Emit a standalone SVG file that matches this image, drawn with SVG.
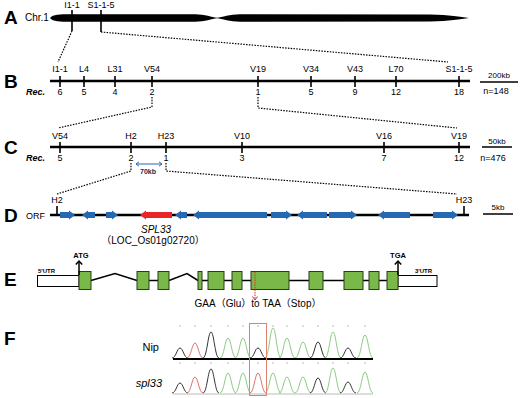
<svg xmlns="http://www.w3.org/2000/svg" width="520" height="398" viewBox="0 0 520 398">
<style>
.pl{font-family:"Liberation Sans",Arial,sans-serif;font-weight:bold;font-size:19px;fill:#000}
.t{font-family:"Liberation Sans",Arial,sans-serif;font-size:9px;fill:#000;text-anchor:middle}
.rec{font-family:"Liberation Sans",Arial,sans-serif;font-size:9px;font-weight:bold;font-style:italic;fill:#000}
.sc{font-family:"Liberation Sans",Arial,sans-serif;font-size:8px;fill:#000;text-anchor:middle}
.ax{stroke:#000;stroke-width:2.6;fill:none}
.tk{stroke:#000;stroke-width:1.6}
.dot{stroke:#000;stroke-width:1.2;stroke-dasharray:1.5 1.3;fill:none}
.blue{fill:#2569b3}
.red{fill:#e8262a}
.ex{fill:#7bb84a;stroke:#2a3d18;stroke-width:1}
.utr{fill:#fff;stroke:#000;stroke-width:1}
.intr{stroke:#000;stroke-width:1.5;fill:none}
.pk{fill:none;stroke-width:1}
.g{stroke:#8ccc84}
.r{stroke:#e07272}
.k{stroke:#333}
.mk{stroke:#bbb;stroke-width:1}
.ah{fill:none;stroke:#000;stroke-width:1.5}
</style>

<!-- Panel letters -->
<g id="panel-letters">
<text class="pl" x="4" y="24">A</text>
<text class="pl" x="4" y="88">B</text>
<text class="pl" x="4" y="154">C</text>
<text class="pl" x="4" y="222">D</text>
<text class="pl" x="4" y="286">E</text>
<text class="pl" x="4" y="345">F</text>
</g>

<!-- Panel A -->
<g id="chr1">
<text x="25" y="21" font-family="Liberation Sans,Arial,sans-serif" font-size="10">Chr.1</text>
<path d="M50,18 C53,14.3 60,14.3 70,14.3 L195,14.3 C205,14.3 212,17.4 217,17.8 C222,17.4 230,14.3 240,14.3 L430,14.5 C450,15 460,17 469,18 C460,19 450,21 430,21.5 L240,21.7 C230,21.7 222,18.6 217,18.2 C212,18.6 205,21.7 195,21.7 L70,21.7 C60,21.7 53,21.7 50,18 Z" fill="#000"/>
</g>
<g id="A-markers">
<line class="tk" x1="72" y1="10" x2="72" y2="31"/>
<line class="tk" x1="101" y1="10" x2="101" y2="32"/>
<text class="t" x="72" y="8">I1-1</text>
<text class="t" x="101" y="8">S1-1-5</text>
</g>

<!-- Panel B -->
<g id="B-map">
<line class="ax" x1="50" y1="81" x2="470" y2="81"/>
<g class="tk">
<line x1="60" y1="76" x2="60" y2="87"/>
<line x1="84" y1="76" x2="84" y2="87"/>
<line x1="115" y1="76" x2="115" y2="87"/>
<line x1="152" y1="76" x2="152" y2="87"/>
<line x1="258" y1="76" x2="258" y2="87"/>
<line x1="311" y1="76" x2="311" y2="87"/>
<line x1="355" y1="76" x2="355" y2="87"/>
<line x1="396" y1="76" x2="396" y2="87"/>
<line x1="459" y1="76" x2="459" y2="87"/>
</g>
<text class="t" x="60" y="72">I1-1</text>
<text class="t" x="84" y="72">L4</text>
<text class="t" x="115" y="72">L31</text>
<text class="t" x="152" y="72">V54</text>
<text class="t" x="258" y="72">V19</text>
<text class="t" x="311" y="72">V34</text>
<text class="t" x="355" y="72">V43</text>
<text class="t" x="396" y="72">L70</text>
<text class="t" x="459" y="72">S1-1-5</text>
<text class="rec" x="26" y="95">Rec.</text>
<text class="t" x="60" y="95">6</text>
<text class="t" x="84" y="95">5</text>
<text class="t" x="115" y="95">4</text>
<text class="t" x="152" y="95">2</text>
<text class="t" x="258" y="95">1</text>
<text class="t" x="311" y="95">5</text>
<text class="t" x="355" y="95">9</text>
<text class="t" x="396" y="95">12</text>
<text class="t" x="459" y="95">18</text>
</g>
<g id="B-scale">
<text class="sc" x="499" y="78">200kb</text>
<line x1="480" y1="82" x2="518" y2="82" stroke="#000" stroke-width="1.5"/>
<text class="t" x="496" y="94">n=148</text>
</g>

<!-- Panel C -->
<g id="C-map">
<line class="ax" x1="50" y1="147" x2="470" y2="147"/>
<g class="tk">
<line x1="60" y1="142" x2="60" y2="153"/>
<line x1="131" y1="142" x2="131" y2="153"/>
<line x1="166" y1="142" x2="166" y2="153"/>
<line x1="242" y1="142" x2="242" y2="153"/>
<line x1="384" y1="142" x2="384" y2="153"/>
<line x1="459" y1="142" x2="459" y2="153"/>
</g>
<text class="t" x="60" y="139">V54</text>
<text class="t" x="131" y="139">H2</text>
<text class="t" x="166" y="139">H23</text>
<text class="t" x="242" y="139">V10</text>
<text class="t" x="384" y="139">V16</text>
<text class="t" x="459" y="139">V19</text>
<text class="rec" x="26" y="161">Rec.</text>
<text class="t" x="60" y="161">5</text>
<text class="t" x="131" y="161">2</text>
<text class="t" x="166" y="161">1</text>
<text class="t" x="242" y="161">3</text>
<text class="t" x="384" y="161">7</text>
<text class="t" x="459" y="161">12</text>
</g>
<g id="C-scale">
<text class="sc" x="497" y="144">50kb</text>
<line x1="482" y1="147" x2="512" y2="147" stroke="#000" stroke-width="1.5"/>
<text class="t" x="493" y="161">n=476</text>
</g>
<g id="C-70kb">
<line x1="136" y1="164" x2="162" y2="164" stroke="#2569b3" stroke-width="1"/>
<path d="M139,161.8 L136,164 L139,166.2 M159,161.8 L162,164 L159,166.2" fill="none" stroke="#2569b3" stroke-width="1"/>
<text x="148" y="174" font-family="Liberation Sans,Arial,sans-serif" font-size="7" font-weight="bold" fill="#1c2a55" text-anchor="middle">70kb</text>
</g>

<!-- Panel D -->
<g id="D-orf">
<text x="26" y="219" font-family="Liberation Sans,Arial,sans-serif" font-size="9">ORF</text>
<line class="ax" x1="50" y1="215" x2="469" y2="215"/>
<line class="tk" x1="57" y1="206" x2="57" y2="215"/>
<line class="tk" x1="464" y1="206" x2="464" y2="215"/>
<text class="t" x="57" y="203">H2</text>
<text class="t" x="464" y="203">H23</text>
<g class="blue">
<polygon points="60,212 69,212 69,210.5 75,215 69,219.5 69,218 60,218"/>
<polygon points="95,212 88,212 88,210.5 82,215 88,219.5 88,218 95,218"/>
<polygon points="106,212 112,212 112,210.5 118,215 112,219.5 112,218 106,218"/>
<polygon points="187,212 181,212 181,210.5 175,215 181,219.5 181,218 187,218"/>
<polygon points="267,212 199,212 199,210.5 193,215 199,219.5 199,218 267,218"/>
<polygon points="271,212 286,212 286,210.5 292,215 286,219.5 286,218 271,218"/>
<polygon points="327,212 303,212 303,210.5 297,215 303,219.5 303,218 327,218"/>
<polygon points="329,212 351,212 351,210.5 357,215 351,219.5 351,218 329,218"/>
<polygon points="410,212 384,212 384,210.5 378,215 384,219.5 384,218 410,218"/>
<polygon points="433,212 452,212 452,210.5 458,215 452,219.5 452,218 433,218"/>
</g>
</g>
<g id="D-spl33">
<polygon class="red" points="172,212 146,212 146,210.5 140,215 146,219.5 146,218 172,218"/>
<text x="156" y="233" font-family="Liberation Sans,Arial,sans-serif" font-size="10" font-style="italic" text-anchor="middle">SPL33</text>
<text x="153" y="244" font-family="Liberation Sans,'Noto Sans CJK SC',sans-serif" font-size="10" text-anchor="middle">（LOC_Os01g02720）</text>
</g>
<g id="D-scale">
<text class="sc" x="498" y="210">5kb</text>
<line x1="483" y1="214" x2="513" y2="214" stroke="#000" stroke-width="1.5"/>
</g>

<!-- Connectors -->
<g id="connectors">
<polyline class="dot" points="72,31 58,62"/>
<polyline class="dot" points="101,32 448,62"/>
<polyline class="dot" points="152,97 152,107 58,128"/>
<polyline class="dot" points="258,97 258,108 457,128"/>
<polyline class="dot" points="131,163 131,171 57,194"/>
<polyline class="dot" points="166,163 166,171 457,194"/>
</g>

<!-- Panel E -->
<g id="E-gene">
<path class="intr" d="M91,280.5 L115,273.5 L137,280.5 M149,280.5 L158,280.5 M169,280.5 L187,273.5 L198,280.5 M202,280.5 L208,280.5 M224,280.5 L232,280.5 M242,280.5 L251,280.5 M289,280.5 L309,280.5 M323,280.5 L344,280.5 M363,280.5 L369,280.5 M379,280.5 L387,280.5"/>
<rect class="utr" x="37.5" y="275.5" width="41.5" height="11"/>
<rect class="utr" x="398" y="275.5" width="39" height="11"/>
<rect class="ex" x="79" y="271.5" width="12" height="18"/>
<rect class="ex" x="137" y="271.5" width="12" height="18"/>
<rect class="ex" x="158" y="271.5" width="11" height="18"/>
<rect class="ex" x="198" y="271.5" width="4" height="18"/>
<rect class="ex" x="208" y="271.5" width="16" height="18"/>
<rect class="ex" x="232" y="271.5" width="10" height="18"/>
<rect class="ex" x="251" y="271.5" width="38" height="18"/>
<rect class="ex" x="309" y="271.5" width="14" height="18"/>
<rect class="ex" x="344" y="271.5" width="19" height="18"/>
<rect class="ex" x="369" y="271.5" width="10" height="18"/>
<rect class="ex" x="387" y="271.5" width="11" height="18"/>
<line x1="79" y1="275" x2="79" y2="261" stroke="#000" stroke-width="1.5"/>
<path class="ah" d="M75.8,264.5 L79,261 L82.2,264.5"/>
<line x1="398" y1="275" x2="398" y2="261" stroke="#000" stroke-width="1.5"/>
<path class="ah" d="M394.8,264.5 L398,261 L401.2,264.5"/>
<text x="81" y="258" font-family="Liberation Sans,Arial,sans-serif" font-size="7.5" font-weight="bold" text-anchor="middle">ATG</text>
<text x="398" y="258" font-family="Liberation Sans,Arial,sans-serif" font-size="7.5" font-weight="bold" text-anchor="middle">TGA</text>
<text x="38" y="273" font-family="Liberation Sans,Arial,sans-serif" font-size="6" font-weight="bold">5'UTR</text>
<text x="415" y="273" font-family="Liberation Sans,Arial,sans-serif" font-size="6" font-weight="bold">3'UTR</text>
<line x1="255" y1="272" x2="255" y2="299" stroke="#e8262a" stroke-width="1" stroke-dasharray="1.5 1"/>
<path d="M252.5,296.5 L255,300 L257.5,296.5" fill="none" stroke="#e8262a" stroke-width="1"/>
<text x="258" y="307" font-family="Liberation Sans,'Noto Sans CJK SC',sans-serif" font-size="10" text-anchor="middle">GAA（Glu）to TAA（Stop）</text>
</g>

<!-- Panel F -->
<g id="F-chromatogram">
<text x="159" y="351" font-family="Liberation Sans,Arial,sans-serif" font-size="11" text-anchor="end">Nip</text>
<text x="162" y="387" font-family="Liberation Sans,Arial,sans-serif" font-size="11" font-style="italic" text-anchor="end">spl33</text>
<g class="mk">
<path d="M179,326h2M194,326h2M210,326h2M227,326h2M242,326h2M257,326h2M272,326h2M286,326h2M302,326h2M317,326h2M332,326h2M347,326h2M364,326h2"/>
<path d="M179,363h2M194,363h2M210,363h2M227,363h2M242,363h2M257,363h2M272,363h2M286,363h2M302,363h2M317,363h2M332,363h2M347,363h2M364,363h2"/>
</g>
<g class="pk">
<path class="k" d="M172,358 C176,358 177,348 180,348 C183,348 184,358 188,358"/>
<path class="r" d="M187,358 C191,358 192,343 195,343 C198,343 199,358 203,358"/>
<path class="k" d="M203,358 C207,358 208,332 211,332 C214,332 215,358 219,358"/>
<path class="g" d="M220,358 C224,358 225,338 228,338 C231,338 232,358 236,358"/>
<path class="g" d="M235,358 C239,358 240,338 243,338 C246,338 247,358 251,358"/>
<path class="k" d="M250,358 C254,358 255,348 258,348 C261,348 262,358 266,358"/>
<path class="g" d="M265,358 C269,358 270,328 273,328 C276,328 277,358 281,358"/>
<path class="g" d="M279,358 C283,358 284,338 287,338 C290,338 291,358 295,358"/>
<path class="g" d="M295,358 C299,358 300,342 303,342 C306,342 307,358 311,358"/>
<path class="k" d="M310,358 C314,358 315,342 318,342 C321,342 322,358 326,358"/>
<path class="g" d="M325,358 C329,358 330,332 333,332 C336,332 337,358 341,358"/>
<path class="k" d="M340,358 C344,358 345,348 348,348 C351,348 352,358 356,358"/>
<path class="g" d="M357,358 C361,358 362,335 365,335 C368,335 369,358 373,358"/>

<path class="k" d="M172,393 C176,393 177,383 180,383 C183,383 184,393 188,393"/>
<path class="r" d="M187,393 C191,393 192,377 195,377 C198,377 199,393 203,393"/>
<path class="k" d="M203,393 C207,393 208,369 211,369 C214,369 215,393 219,393"/>
<path class="g" d="M220,393 C224,393 225,373 228,373 C231,373 232,393 236,393"/>
<path class="g" d="M235,393 C239,393 240,373 243,373 C246,373 247,393 251,393"/>
<path class="r" d="M250,393 C254,393 255,373 258,373 C261,373 262,393 266,393"/>
<path class="g" d="M265,393 C269,393 270,373 273,373 C276,373 277,393 281,393"/>
<path class="g" d="M279,393 C283,393 284,377 287,377 C290,377 291,393 295,393"/>
<path class="g" d="M295,393 C299,393 300,377 303,377 C306,377 307,393 311,393"/>
<path class="k" d="M310,393 C314,393 315,378 318,378 C321,378 322,393 326,393"/>
<path class="g" d="M325,393 C329,393 330,368 333,368 C336,368 337,393 341,393"/>
<path class="k" d="M340,393 C344,393 345,382 348,382 C351,382 352,393 356,393"/>
<path class="g" d="M357,393 C361,393 362,372 365,372 C368,372 369,393 373,393"/>
</g>
<line x1="173" y1="359" x2="373" y2="359" stroke="#000" stroke-width="2"/>
<line x1="173" y1="394" x2="373" y2="394" stroke="#aaa" stroke-width="0.8"/>
<rect x="249.5" y="323.5" width="17" height="72" fill="none" stroke="#e0806e" stroke-width="1"/>
</g>
</svg>
